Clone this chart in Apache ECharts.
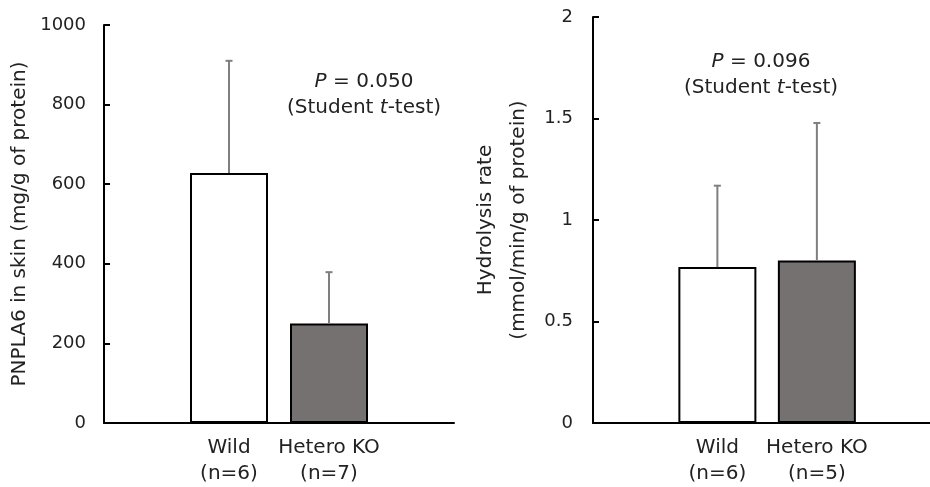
<!DOCTYPE html>
<html>
<head>
<meta charset="utf-8">
<script src="https://cdn.jsdelivr.net/npm/echarts@6/dist/echarts.min.js"></script>
<style>
  html, body { margin: 0; padding: 0; background: #fff; }
  #main { width: 930px; height: 487px; }
</style>
</head>
<body>
<div id="main"></div>
<script>
// data
var categories = ['Wild', 'Hetero KO'];
var nLeft = [6, 7];
var nRight = [6, 5];
var pnplaMean = [628, 250];
var pnplaUpper = [910, 379];
var hydroMean = [0.768, 0.80];
var hydroUpper = [1.169, 1.478];
var pnplaTicks = [0, 200, 400, 600, 800, 1000];
var hydroTicks = [0, 0.5, 1, 1.5, 2];
var barColors = ['#ffffff', '#767171'];

var font = 'DejaVu Sans';
var textColor = '#222';

var chart = echarts.init(document.getElementById('main'));

function barData(vals) {
  return vals.map(function (v, i) {
    return { value: [i + 1, v], itemStyle: { color: barColors[i] } };
  });
}
function errData(means, uppers) {
  return means.map(function (m, i) { return [i + 1, m, uppers[i]]; });
}
// error bar: only the upper half, grey, small cap
function errRender(params, api) {
  var x = api.value(0);
  var p0 = api.coord([x, api.value(1)]);
  var p1 = api.coord([x, api.value(2)]);
  var st = { stroke: '#7f7f7f', lineWidth: 2 };
  return {
    type: 'group',
    children: [
      { type: 'line', shape: { x1: p0[0], y1: p0[1], x2: p1[0], y2: p1[1] }, style: st },
      { type: 'line', shape: { x1: p1[0] - 3.5, y1: p1[1], x2: p1[0] + 3.5, y2: p1[1] }, style: st }
    ]
  };
}
function xAxis(gridIndex, max, ns) {
  return {
    type: 'value', gridIndex: gridIndex, min: -0.25, max: max,
    axisLine: { show: true, onZero: false, lineStyle: { color: '#000', width: 2 } },
    axisTick: { show: false },
    splitLine: { show: false },
    axisLabel: {
      customValues: [1, 2],
      margin: 12,
      fontFamily: font, fontSize: 20, lineHeight: 26, color: textColor,
      formatter: function (v) {
        var i = Math.round(v) - 1;
        return categories[i] + '\n(n=' + ns[i] + ')';
      }
    }
  };
}
function yAxis(gridIndex, ticks, interval, margin, name, nameGap, lineHeight) {
  return {
    type: 'value', gridIndex: gridIndex,
    min: ticks[0], max: ticks[ticks.length - 1], interval: interval,
    axisLine: { show: true, onZero: false, lineStyle: { color: '#000', width: 2 } },
    axisTick: { show: true, inside: true, length: 6, lineStyle: { color: '#000', width: 2 } },
    splitLine: { show: false },
    axisLabel: { margin: margin, fontFamily: font, fontSize: 18, color: textColor,
      formatter: function (v) { return String(v); } },
    name: name, nameLocation: 'middle', nameRotate: 90, nameGap: nameGap,
    nameTextStyle: { fontFamily: font, fontSize: 20, color: textColor, lineHeight: lineHeight }
  };
}

var option = {
  backgroundColor: '#fff',
  animation: false,
  grid: [
    { left: 104, top: 25, width: 350, height: 400 },
    { left: 593, top: 17, width: 337, height: 406 }
  ],
  xAxis: [xAxis(0, 3.25, nLeft), xAxis(1, 3.137, nRight)],
  yAxis: [
    yAxis(0, pnplaTicks, 200, 18, 'PNPLA6 in skin (mg/g of protein)', 71, 26),
    yAxis(1, hydroTicks, 0.5, 20, 'Hydrolysis rate\n(mmol/min/g of protein)', 58, 33)
  ],
  series: [
    { type: 'bar', xAxisIndex: 0, yAxisIndex: 0, barWidth: 78,
      itemStyle: { borderColor: '#000', borderWidth: 2 }, data: barData(pnplaMean) },
    { type: 'custom', xAxisIndex: 0, yAxisIndex: 0, renderItem: errRender,
      data: errData(pnplaMean, pnplaUpper), z: 3 },
    { type: 'bar', xAxisIndex: 1, yAxisIndex: 1, barWidth: 78,
      itemStyle: { borderColor: '#000', borderWidth: 2 }, data: barData(hydroMean) },
    { type: 'custom', xAxisIndex: 1, yAxisIndex: 1, renderItem: errRender,
      data: errData(hydroMean, hydroUpper), z: 3 }
  ],
  graphic: [
    { type: 'text', x: 364, y: 95,
      style: {
        text: '{i|P} = 0.050\n(Student {i|t}-test)',
        align: 'center', verticalAlign: 'middle',
        font: '20px "DejaVu Sans"', lineHeight: 26, fill: textColor,
        rich: { i: { fontStyle: 'italic', fontSize: 20, fontFamily: font, lineHeight: 26 } }
      } },
    { type: 'text', x: 761, y: 75,
      style: {
        text: '{i|P} = 0.096\n(Student {i|t}-test)',
        align: 'center', verticalAlign: 'middle',
        font: '20px "DejaVu Sans"', lineHeight: 26, fill: textColor,
        rich: { i: { fontStyle: 'italic', fontSize: 20, fontFamily: font, lineHeight: 26 } }
      } }
  ]
};
chart.setOption(option);
</script>
</body>
</html>
